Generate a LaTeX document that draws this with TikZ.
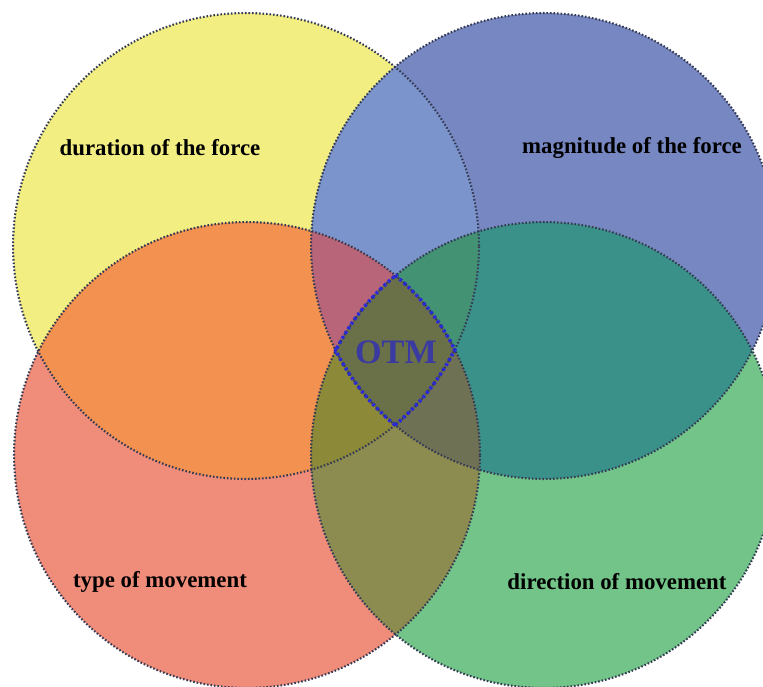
\documentclass[tikz,border=0pt]{standalone}
\usepackage{fontspec}
\setmainfont{Liberation Serif}

\definecolor{colY}{HTML}{F3EE82}
\definecolor{colB}{HTML}{7787C2}
\definecolor{colR}{HTML}{F08C7A}
\definecolor{colG}{HTML}{72C488}
\definecolor{colYB}{HTML}{7B94CB}
\definecolor{colYR}{HTML}{F39250}
\definecolor{colBG}{HTML}{3A918A}
\definecolor{colRG}{HTML}{8C8C50}
\definecolor{colYBR}{HTML}{B8657A}
\definecolor{colYBG}{HTML}{449274}
\definecolor{colYRG}{HTML}{8C8A38}
\definecolor{colBRG}{HTML}{6E7154}
\definecolor{colAll}{HTML}{6A7048}
\definecolor{ringcol}{HTML}{343A54}
\definecolor{corecol}{HTML}{2A2AD8}
\definecolor{otmcol}{HTML}{3A3AA0}

\tikzset{
  ring/.style={draw=ringcol, line width=1.2pt, dash pattern=on 0.9pt off 1.1pt},
  core/.style={draw=corecol, line width=2pt, dash pattern=on 1.6pt off 1.6pt},
  lbl/.style={font=\fontsize{13}{15}\selectfont\bfseries, text=black},
}

\begin{document}
\begin{tikzpicture}[x=0.02cm,y=-0.02cm]

\def\rad{4.66cm}
\def\radc{4.70cm}

\useasboundingbox (0,0) rectangle (763,686);

\coordinate (Y) at (246,246);
\coordinate (B) at (544,246);
\coordinate (R) at (247,455);
\coordinate (G) at (544,455);

\begin{scope}
\clip (0,0) rectangle (763,686);

% single circles
\foreach \a in {Y,B,R,G}
    \fill[col\a] (\a) circle (\rad);

% two at a time
\foreach \a/\b in {Y/B,Y/R,B/G,R/G}
{
    \begin{scope}
        \clip (\a) circle (\rad);
        \fill[col\a\b] (\b) circle (\rad);
    \end{scope}
}

% three at a time
\foreach \a/\b/\c in {Y/B/R,Y/B/G,Y/R/G,B/R/G}
{
    \begin{scope}
        \clip (\a) circle (\rad);
        \clip (\b) circle (\rad);
        \fill[col\a\b\c] (\c) circle (\rad);
    \end{scope}
}

% all four
\begin{scope}
    \clip (Y) circle (\rad);
    \clip (B) circle (\rad);
    \clip (R) circle (\rad);
    \fill[colAll] (G) circle (\rad);
\end{scope}

% dotted rims
\foreach \a in {Y,B,R,G}
    \draw[ring] (\a) circle (\rad);

% rim of the middle part
\foreach \a/\b/\c/\d in {Y/B/R/G,B/R/G/Y,R/G/Y/B,G/Y/B/R}
{
    \begin{scope}
        \clip (\b) circle (\radc);
        \clip (\c) circle (\radc);
        \clip (\d) circle (\radc);
        \draw[core] (\a) circle (\rad);
    \end{scope}
}
\end{scope}

\node[lbl] (dur) at (160,148) {duration of the force};
\node[lbl] (mag) at (632,148) {magnitude of the force};
\node[lbl] (typ) at (160,582) {type of movement};
\node[lbl] (dir) at (617,582) {direction of movement};
\node[font=\fontsize{19.5}{22}\selectfont\bfseries, text=otmcol] (otm) at (396,352) {OTM};

\end{tikzpicture}
\end{document}
